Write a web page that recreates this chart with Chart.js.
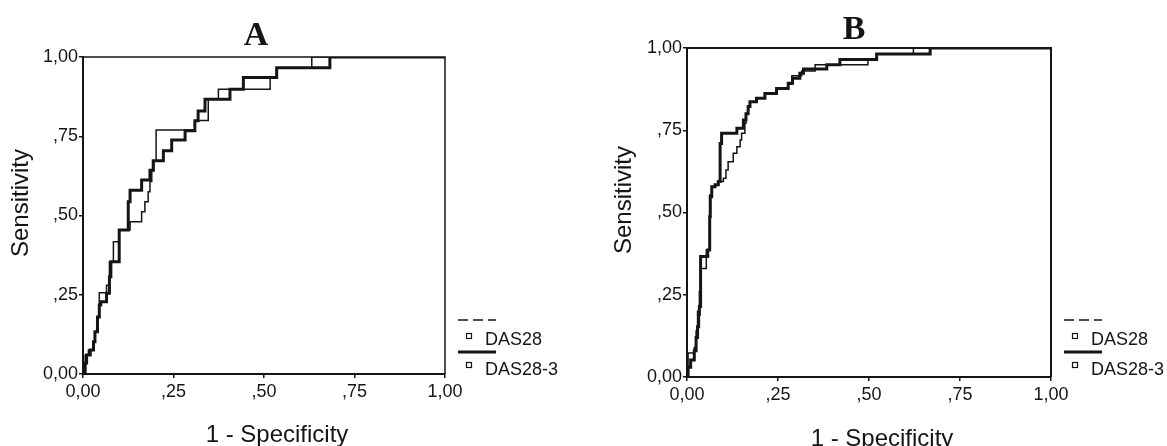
<!DOCTYPE html>
<html><head><meta charset="utf-8">
<script src="https://cdn.jsdelivr.net/npm/chart.js@4.4.1/dist/chart.umd.min.js"></script>
<style>
html,body{margin:0;padding:0;background:#fff;}
#wrap{position:relative;width:1167px;height:446px;overflow:hidden;background:#fff;}
canvas{position:absolute;top:0;}
</style></head><body>
<div id="wrap">
<canvas id="cA" width="583" height="446" style="left:0"></canvas>
<canvas id="cB" width="584" height="446" style="left:583px"></canvas>
</div>
<script>
// ---- data ----
const tickValues = [0, 0.25, 0.5, 0.75, 1];
const tickLabels = ['0,00', ',25', ',50', ',75', '1,00'];
const seriesNames = ['DAS28', 'DAS28-3'];
const panelTitles = ['A', 'B'];
const xAxisTitle = '1 - Specificity';
const yAxisTitle = 'Sensitivity';

// ROC points [1 - specificity, sensitivity], panel A
const rocA_DAS28 = [[0,0],[0.006,0],[0.006,0.06],[0.015,0.06],[0.015,0.076],[0.029,0.076],[0.029,0.102],[0.033,0.102],[0.033,0.133],[0.04,0.133],[0.04,0.18],[0.045,0.18],[0.045,0.256],[0.065,0.256],[0.065,0.28],[0.073,0.28],[0.073,0.354],[0.084,0.354],[0.084,0.417],[0.1,0.417],[0.1,0.454],[0.13,0.454],[0.13,0.48],[0.162,0.48],[0.162,0.512],[0.171,0.512],[0.171,0.543],[0.18,0.543],[0.18,0.575],[0.185,0.575],[0.185,0.607],[0.19,0.607],[0.19,0.642],[0.196,0.642],[0.196,0.673],[0.202,0.673],[0.202,0.77],[0.309,0.77],[0.309,0.8],[0.346,0.8],[0.346,0.867],[0.374,0.867],[0.374,0.898],[0.517,0.898],[0.517,0.935],[0.535,0.935],[0.535,0.966],[0.632,0.966],[0.632,1],[1,1]];
const rocA_DAS28_3 = [[0,0],[0.006,0],[0.006,0.035],[0.01,0.035],[0.01,0.06],[0.02,0.06],[0.02,0.076],[0.029,0.076],[0.029,0.102],[0.033,0.102],[0.033,0.133],[0.04,0.133],[0.04,0.18],[0.045,0.18],[0.045,0.218],[0.049,0.218],[0.049,0.228],[0.065,0.228],[0.065,0.255],[0.073,0.255],[0.073,0.307],[0.077,0.307],[0.077,0.354],[0.1,0.354],[0.1,0.454],[0.125,0.454],[0.125,0.543],[0.13,0.543],[0.13,0.58],[0.162,0.58],[0.162,0.612],[0.185,0.612],[0.185,0.643],[0.194,0.643],[0.194,0.673],[0.222,0.673],[0.222,0.704],[0.245,0.704],[0.245,0.738],[0.282,0.738],[0.282,0.767],[0.309,0.767],[0.309,0.799],[0.318,0.799],[0.318,0.83],[0.337,0.83],[0.337,0.867],[0.406,0.867],[0.406,0.898],[0.443,0.898],[0.443,0.935],[0.535,0.935],[0.535,0.966],[0.682,0.966],[0.682,1],[1,1]];

// panel B
const rocB_DAS28 = [[0,0],[0.003,0],[0.003,0.073],[0.02,0.073],[0.02,0.09],[0.025,0.09],[0.025,0.14],[0.029,0.14],[0.029,0.2],[0.034,0.2],[0.034,0.26],[0.038,0.26],[0.038,0.33],[0.053,0.33],[0.053,0.386],[0.061,0.386],[0.061,0.44],[0.063,0.44],[0.063,0.553],[0.068,0.553],[0.068,0.578],[0.077,0.578],[0.077,0.584],[0.086,0.584],[0.086,0.594],[0.1,0.594],[0.1,0.604],[0.107,0.604],[0.107,0.629],[0.113,0.629],[0.113,0.654],[0.127,0.654],[0.127,0.68],[0.137,0.68],[0.137,0.7],[0.146,0.7],[0.146,0.72],[0.15,0.72],[0.15,0.741],[0.159,0.741],[0.159,0.771],[0.162,0.771],[0.162,0.8],[0.168,0.8],[0.168,0.822],[0.173,0.822],[0.173,0.837],[0.191,0.837],[0.191,0.847],[0.214,0.847],[0.214,0.862],[0.246,0.862],[0.246,0.877],[0.278,0.877],[0.278,0.89],[0.288,0.89],[0.288,0.916],[0.315,0.916],[0.315,0.93],[0.352,0.93],[0.352,0.949],[0.497,0.949],[0.497,0.965],[0.521,0.965],[0.521,0.982],[0.622,0.982],[0.622,1],[1,1]];
const rocB_DAS28_3 = [[0,0],[0.003,0],[0.003,0.03],[0.01,0.03],[0.01,0.052],[0.02,0.052],[0.02,0.08],[0.025,0.08],[0.025,0.12],[0.029,0.12],[0.029,0.153],[0.032,0.153],[0.032,0.19],[0.034,0.19],[0.034,0.214],[0.036,0.214],[0.036,0.26],[0.038,0.26],[0.038,0.366],[0.057,0.366],[0.057,0.386],[0.061,0.386],[0.061,0.426],[0.063,0.426],[0.063,0.487],[0.064,0.487],[0.064,0.548],[0.068,0.548],[0.068,0.578],[0.077,0.578],[0.077,0.584],[0.086,0.584],[0.086,0.594],[0.091,0.594],[0.091,0.71],[0.095,0.71],[0.095,0.741],[0.137,0.741],[0.137,0.756],[0.155,0.756],[0.155,0.781],[0.162,0.781],[0.162,0.8],[0.168,0.8],[0.168,0.822],[0.173,0.822],[0.173,0.837],[0.191,0.837],[0.191,0.847],[0.214,0.847],[0.214,0.862],[0.246,0.862],[0.246,0.877],[0.278,0.877],[0.278,0.893],[0.29,0.893],[0.29,0.908],[0.31,0.908],[0.31,0.923],[0.32,0.923],[0.32,0.936],[0.384,0.936],[0.384,0.949],[0.42,0.949],[0.42,0.965],[0.521,0.965],[0.521,0.982],[0.668,0.982],[0.668,1],[1,1]];

// ---- drawing ----
const INK = '#151515';
const SANS = '"Liberation Sans", Arial, sans-serif';

const decor = {
  id: 'rocDecor',
  afterDraw(chart, args, o) {
    const ctx = chart.ctx, a = chart.chartArea;
    ctx.save();
    // frame (top & right)
    ctx.strokeStyle = INK; ctx.lineWidth = o.frameW;
    ctx.beginPath(); ctx.moveTo(a.left, a.top); ctx.lineTo(a.right, a.top); ctx.lineTo(a.right, a.bottom); ctx.stroke();
    ctx.fillStyle = INK;
    // panel title
    ctx.font = 'bold 34px "Liberation Serif", "Times New Roman", serif';
    ctx.textAlign = 'center'; ctx.textBaseline = 'alphabetic';
    ctx.fillText(o.title, o.titleX, o.titleY);
    // axis titles
    ctx.font = '24px ' + SANS;
    ctx.fillText(xAxisTitle, o.xtX, o.xtY);
    ctx.save();
    ctx.translate(o.ytX, o.ytY); ctx.rotate(-Math.PI / 2);
    ctx.fillText(yAxisTitle, 0, 0);
    ctx.restore();
    // legend
    const r = a.right;
    const rows = [
      {lineY: 320, textY: 345, sqY: 336, dash: [10, 5], lw: 1.5},
      {lineY: 352, textY: 375, sqY: 365, dash: [], lw: 3}
    ];
    ctx.font = '18px ' + SANS; ctx.textAlign = 'left';
    chart.data.datasets.forEach((ds, i) => {
      const rw = rows[i];
      ctx.strokeStyle = INK;
      ctx.setLineDash(rw.dash); ctx.lineWidth = rw.lw;
      ctx.beginPath(); ctx.moveTo(r + 13, rw.lineY); ctx.lineTo(r + 51, rw.lineY); ctx.stroke();
      ctx.setLineDash([]); ctx.lineWidth = 1.2;
      ctx.strokeRect(r + 21.5, rw.sqY - 2.5, 5, 5);
      ctx.fillText(ds.label, r + 40, rw.textY);
    });
    ctx.restore();
  }
};

function makePanel(id, rocThin, rocThick, cfg) {
  const toPts = arr => arr.map(p => ({x: p[0], y: p[1]}));
  const axisCommon = {
    type: 'linear', min: 0, max: 1,
    afterBuildTicks: s => { s.ticks = tickValues.map(v => ({value: v})); },
    ticks: {
      callback: (v, i) => tickLabels[i],
      font: {family: SANS, size: 18}, color: INK,
      autoSkip: false, maxRotation: 0, minRotation: 0
    },
    grid: {display: true, drawOnChartArea: false, drawTicks: true, tickLength: 4, color: INK, lineWidth: 1.5},
    border: {display: true, color: INK, width: 2}
  };
  return new Chart(document.getElementById(id), {
    type: 'scatter',
    data: {
      datasets: [
        {label: seriesNames[0], data: toPts(rocThin), showLine: true, borderColor: INK, borderWidth: 1.5, pointRadius: 0, tension: 0, fill: false},
        {label: seriesNames[1], data: toPts(rocThick), showLine: true, borderColor: INK, borderWidth: 3, pointRadius: 0, tension: 0, fill: false}
      ]
    },
    options: {
      responsive: false, animation: false,
      layout: {padding: {left: 0, top: cfg.top, right: cfg.right, bottom: 0}},
      scales: {
        x: Object.assign({}, axisCommon, {position: 'bottom',
          ticks: Object.assign({}, axisCommon.ticks, {padding: 3}),
          afterFit: s => { s.height = cfg.xH; }}),
        y: Object.assign({}, axisCommon, {position: 'left',
          ticks: Object.assign({}, axisCommon.ticks, {padding: 1}),
          afterFit: s => { s.width = cfg.yW; }})
      },
      plugins: {
        legend: {display: false}, tooltip: {enabled: false}, title: {display: false},
        rocDecor: cfg.decor
      }
    },
    plugins: [decor]
  });
}

makePanel('cA', rocA_DAS28, rocA_DAS28_3, {
  top: 57, right: 583 - 445, xH: 446 - 374, yW: 83,
  decor: {title: panelTitles[0], titleX: 256, titleY: 45, xtX: 277, xtY: 442, ytX: 28, ytY: 203, frameW: 1.5}
});
makePanel('cB', rocB_DAS28, rocB_DAS28_3, {
  top: 48, right: 584 - 468, xH: 446 - 377, yW: 104,
  decor: {title: panelTitles[1], titleX: 271, titleY: 39, xtX: 299, xtY: 446, ytX: 48, ytY: 200, frameW: 2}
});
</script>
</body></html>
